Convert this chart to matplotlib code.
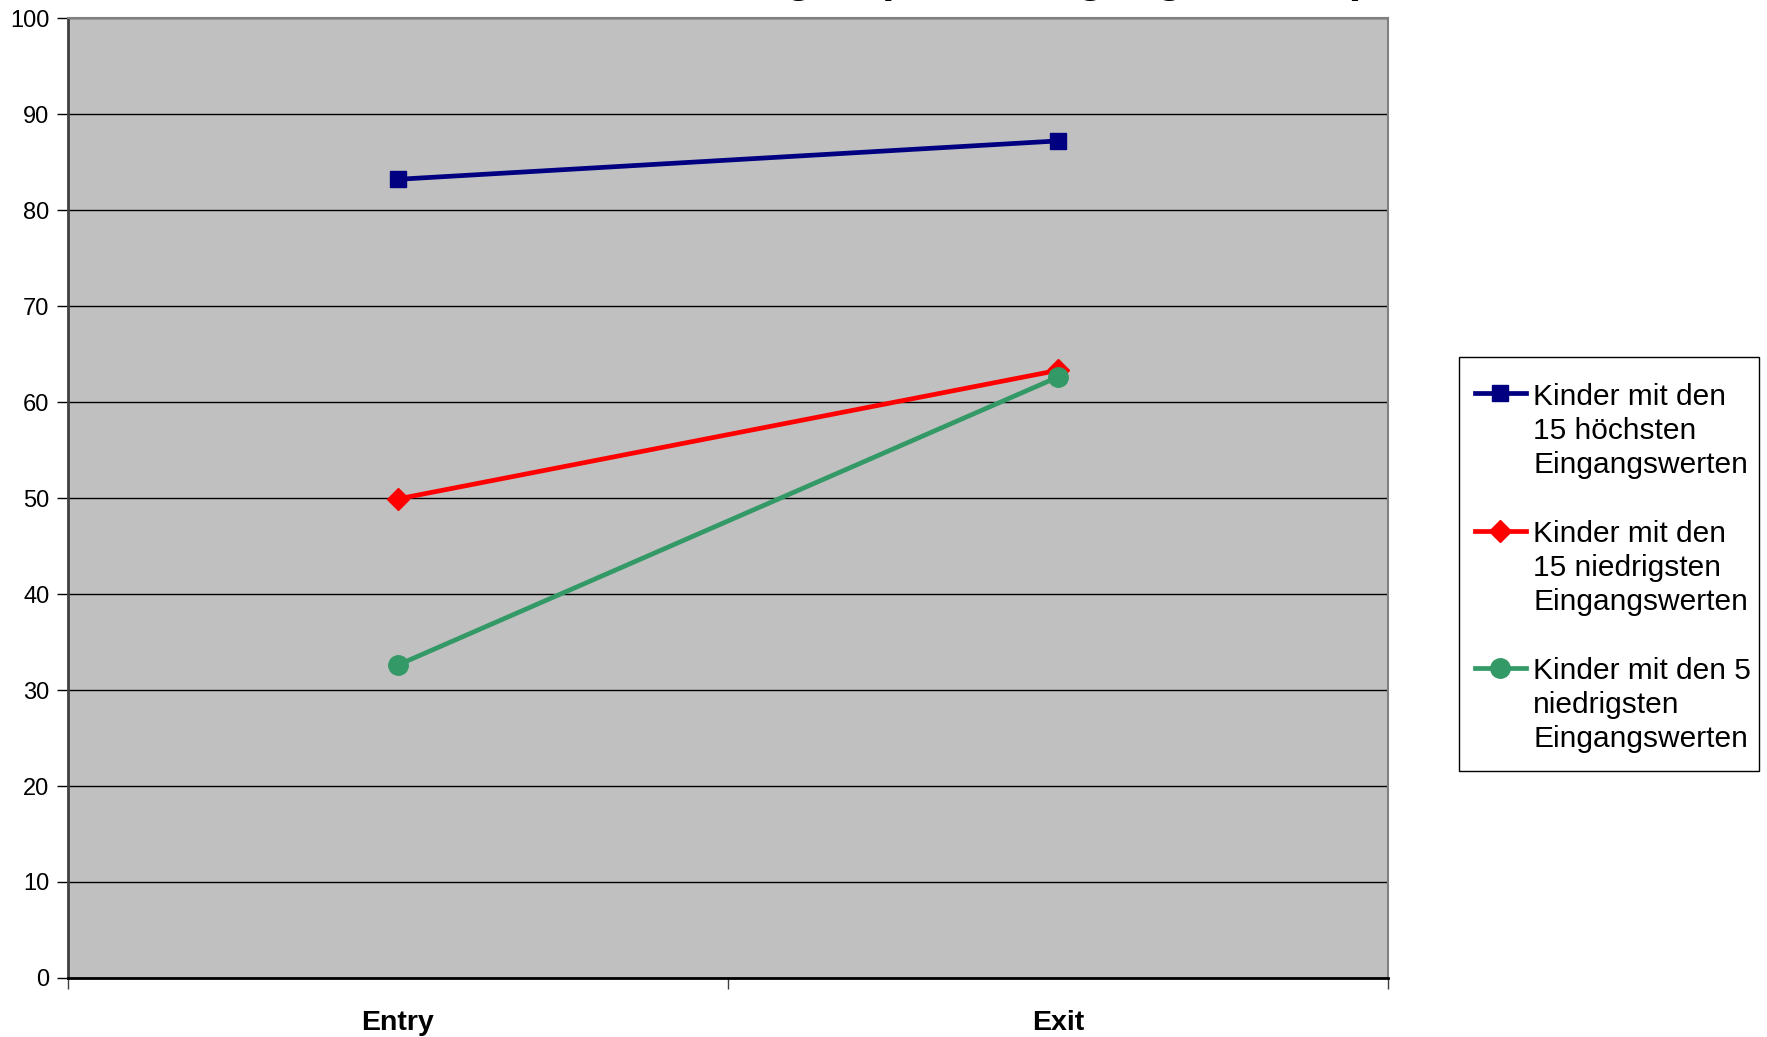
import matplotlib.pyplot as plt
from matplotlib.patches import Rectangle

plt.rcParams['font.family'] = ['Liberation Sans', 'DejaVu Sans']

categories = ['Entry', 'Exit']
hoechste_15 = [83.2, 87.2]
niedrigste_15 = [49.9, 63.3]
niedrigste_5 = [32.6, 62.6]
labels = ['Kinder mit den\n15 höchsten\nEingangswerten',
          'Kinder mit den\n15 niedrigsten\nEingangswerten',
          'Kinder mit den 5\nniedrigsten\nEingangswerten']
title = 'Durchschnittliche Leistungen (nach Eingangswerten)'

fig = plt.figure(figsize=(17.67, 10.37), dpi=100)
ax = fig.add_axes([0.0383, 0.0569, 0.7472, 0.9257])
ax.set_facecolor('#C0C0C0')

x = list(range(len(categories)))
ax.plot(x, hoechste_15, color='#000080', lw=3.4, marker='s', ms=12, label=labels[0])
ax.plot(x, niedrigste_15, color='#FF0000', lw=3.4, marker='D', ms=11, label=labels[1])
ax.plot(x, niedrigste_5, color='#339966', lw=3.4, marker='o', ms=14, label=labels[2])

ax.set_xlim(-0.5, 1.5)
ax.set_ylim(0, 100)
ax.set_yticks(range(0, 101, 10))
ax.yaxis.grid(True, color='black', lw=1)
ax.set_axisbelow(True)

# Kategorien mittig, Teilstriche an den Grenzen
ax.set_xticks([-0.5, 0.5, 1.5])
ax.set_xticklabels([])
ax.set_xticks(x, minor=True)
ax.set_xticklabels(categories, minor=True, fontsize=20.5, fontweight='bold')
ax.tick_params(axis='x', which='minor', length=0, pad=23)
ax.tick_params(axis='x', which='major', length=8, width=1, color='#404040')
ax.tick_params(axis='y', length=8, width=1, labelsize=17, pad=5)

for side in ['top', 'right']:
    ax.spines[side].set_color('#808080')
    ax.spines[side].set_linewidth(1.5)
ax.spines['left'].set_color('#404040')
ax.spines['left'].set_linewidth(2)
ax.spines['bottom'].set_color('black')
ax.spines['bottom'].set_linewidth(2)

# Legendenrahmen separat, damit die Box so schmal wie im Original bleibt
box = Rectangle((0.8257, 0.2565), 0.1698, 0.3992, transform=fig.transFigure,
                facecolor='white', edgecolor='black', lw=1, zorder=1)
fig.add_artist(box)

h, l = ax.get_legend_handles_labels()
leg = fig.legend(h, l, loc='upper left', bbox_to_anchor=(0.8348, 0.6307), fontsize=21.5,
                 frameon=False, handlelength=1.7, handletextpad=0.24, labelspacing=1.38,
                 borderpad=0, borderaxespad=0)
leg.set_zorder(5)
for t in leg.get_texts():
    t.set_linespacing(1.27)
# Symbol an der ersten Textzeile ausrichten
for col in leg._legend_handle_box.get_children():
    for row in col.get_children():
        row.align = 'top'

# Titel oben abgeschnitten wie im Original
fig.text(0.454, 1.008, title, ha='center', va='baseline', fontsize=32, fontweight='bold')

fig.savefig('out.png', dpi=100)
